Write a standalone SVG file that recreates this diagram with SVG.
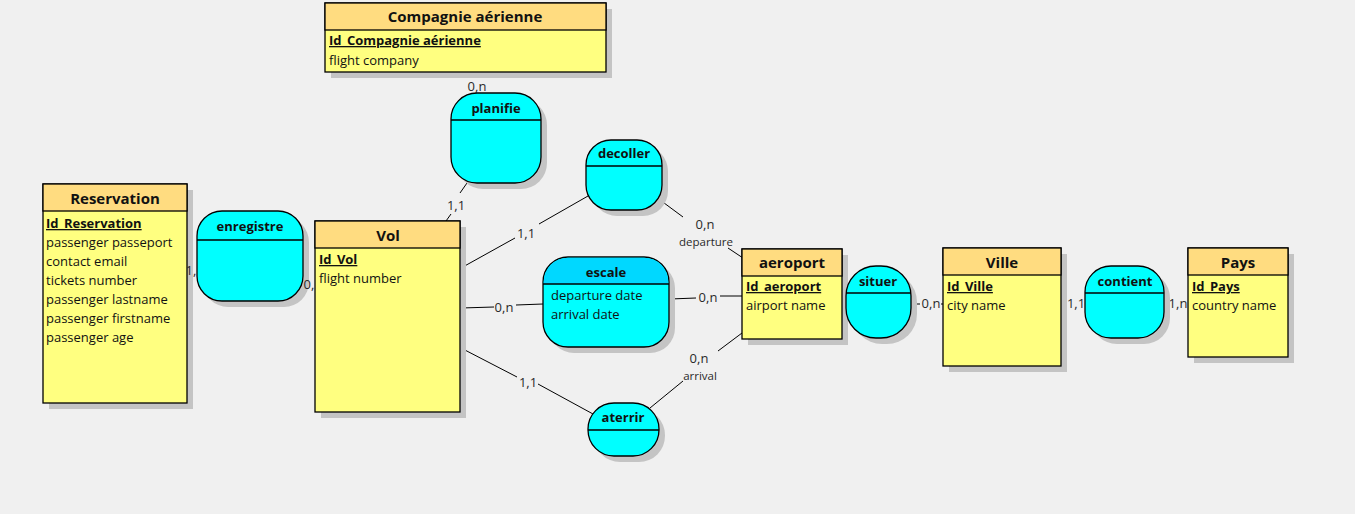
<svg xmlns="http://www.w3.org/2000/svg" width="1355" height="514" viewBox="0 0 1355 514">
<style>
text{font-family:"Open Sans","Noto Sans","Liberation Sans",sans-serif;fill:#111}
.sh{fill:#c4c4c4}
.hd{fill:#ffdc80;stroke:#000;stroke-width:1.3}
.bd{fill:#ffff80;stroke:#000;stroke-width:1.3}
.as{fill:#00ffff;stroke:#000;stroke-width:1.3}
.ash{fill:#00d8ff}
.sep{stroke:#000;stroke-width:1.3}
.t{font-weight:bold;font-size:15px;text-anchor:middle}
.at{font-weight:bold;font-size:13px;text-anchor:middle}
.id{font-weight:bold;font-size:13px;text-decoration:underline}
.a{font-size:13px}
.lb{font-size:13px;text-anchor:middle;fill:#2a2a2a}
.rl{font-size:11.5px;text-anchor:middle;fill:#2a2a2a}
.cn{stroke:#000;stroke-width:1;fill:none}
</style>
<rect width="1355" height="514" fill="#f0f0f0"/>
<g id="connectors">
<path class="cn" d="M472,72 L472,77"/>
<path class="cn" d="M467,183 L460,193 M451,214 L446,221"/>
<path class="cn" d="M461,268 L515,238 M539,224 L588,196"/>
<path class="cn" d="M656,197 L683,217 M728,248 L743,258"/>
<path class="cn" d="M461,308 L494,307 M516,305 L543,304"/>
<path class="cn" d="M670,299 L696,298 M720,296 L742,296"/>
<path class="cn" d="M461,348 L517,377 M538,384 L593,414"/>
<path class="cn" d="M650,408 L683,381 M718,351 L742,333"/>
<path class="cn" d="M842,299 L846,299"/>
<path class="cn" d="M911,304 L920,304 M941,304 L943,304"/>
<path class="cn" d="M1061,302 L1066,302"/>
<path class="cn" d="M1164,302 L1168,302"/>
<text class="lb" x="477" y="91">0,n</text>
<text class="lb" x="456" y="210">1,1</text>
<text class="lb" x="526" y="238">1,1</text>
<text class="lb" x="705" y="229">0,n</text>
<text class="rl" x="706" y="246">departure</text>
<text class="lb" x="504" y="312">0,n</text>
<text class="lb" x="708" y="302">0,n</text>
<text class="lb" x="699" y="363">0,n</text>
<text class="rl" x="700" y="380">arrival</text>
<text class="lb" x="528" y="387">1,1</text>
<text class="lb" x="931" y="308">0,n</text>
<text class="lb" x="1076" y="308">1,1</text>
<text class="lb" x="1178" y="308">1,n</text>
</g>
<g id="compagnie">
<rect class="sh" x="331" y="9" width="281" height="69"/>
<rect class="bd" x="325" y="3" width="281" height="69"/>
<rect class="hd" x="325" y="3" width="281" height="27"/>
<text class="t" x="465" y="22">Compagnie aérienne</text>
<text class="id" x="329" y="45">Id_Compagnie aérienne</text>
<text class="a" x="329" y="65">flight company</text>
</g>
<g id="reservation">
<rect class="sh" x="49" y="190" width="144" height="219"/>
<rect class="bd" x="43" y="184" width="144" height="219"/>
<rect class="hd" x="43" y="184" width="144" height="27"/>
<text class="t" x="115" y="204">Reservation</text>
<text class="id" x="46" y="228">Id_Reservation</text>
<text class="a" x="46" y="247">passenger passeport</text>
<text class="a" x="46" y="266">contact email</text>
<text class="a" x="46" y="285">tickets number</text>
<text class="a" x="46" y="304">passenger lastname</text>
<text class="a" x="46" y="323">passenger firstname</text>
<text class="a" x="46" y="342">passenger age</text>
</g>
<g id="enregistre">
<rect class="sh" x="203" y="217" width="106" height="90" rx="25"/>
<rect class="as" x="197" y="211" width="106" height="90" rx="25"/>
<line class="sep" x1="197" y1="240" x2="303" y2="240"/>
<text class="at" x="250" y="231">enregistre</text>
</g>
<text class="lb" x="191" y="275">1,</text>
<text class="lb" x="309" y="289">0,</text>
<g id="vol">
<rect class="sh" x="321" y="227" width="145" height="191"/>
<rect class="bd" x="315" y="221" width="145" height="191"/>
<rect class="hd" x="315" y="221" width="145" height="27"/>
<text class="t" x="388" y="241">Vol</text>
<text class="id" x="319" y="264">Id_Vol</text>
<text class="a" x="319" y="283">flight number</text>
</g>
<g id="planifie">
<rect class="sh" x="457" y="99" width="90" height="90" rx="26"/>
<rect class="as" x="451" y="93" width="90" height="90" rx="26"/>
<line class="sep" x1="451" y1="120" x2="541" y2="120"/>
<text class="at" x="496" y="113">planifie</text>
</g>
<g id="decoller">
<rect class="sh" x="592" y="146" width="76" height="70" rx="25"/>
<rect class="as" x="586" y="140" width="76" height="70" rx="25"/>
<line class="sep" x1="586" y1="166" x2="662" y2="166"/>
<text class="at" x="624" y="158">decoller</text>
</g>
<g id="escale">
<rect class="sh" x="549" y="263" width="126" height="90" rx="25"/>
<rect class="as" x="543" y="257" width="126" height="90" rx="25"/>
<path class="ash" d="M543.7,284 L543.7,282 A24.3,24.3 0 0 1 568,257.7 L644,257.7 A24.3,24.3 0 0 1 668.3,282 L668.3,284 Z"/>
<line class="sep" x1="543" y1="284" x2="669" y2="284"/>
<text class="at" x="606" y="277">escale</text>
<text class="a" x="551" y="300">departure date</text>
<text class="a" x="551" y="319">arrival date</text>
</g>
<g id="aterrir">
<rect class="sh" x="594" y="409" width="71" height="53" rx="26"/>
<rect class="as" x="588" y="403" width="71" height="53" rx="26"/>
<line class="sep" x1="588" y1="430" x2="659" y2="430"/>
<text class="at" x="623" y="422">aterrir</text>
</g>
<g id="aeroport">
<rect class="sh" x="748" y="255" width="100" height="90"/>
<rect class="bd" x="742" y="249" width="100" height="90"/>
<rect class="hd" x="742" y="249" width="100" height="27"/>
<text class="t" x="792" y="268">aeroport</text>
<text class="id" x="746" y="291">Id_aeroport</text>
<text class="a" x="746" y="310">airport name</text>
</g>
<g id="situer">
<rect class="sh" x="852" y="272" width="65" height="72" rx="30"/>
<rect class="as" x="846" y="266" width="65" height="72" rx="30"/>
<line class="sep" x1="846" y1="293" x2="911" y2="293"/>
<text class="at" x="878" y="286">situer</text>
</g>
<g id="ville">
<rect class="sh" x="949" y="254" width="118" height="118"/>
<rect class="bd" x="943" y="248" width="118" height="118"/>
<rect class="hd" x="943" y="248" width="118" height="27"/>
<text class="t" x="1002" y="268">Ville</text>
<text class="id" x="947" y="291">Id_Ville</text>
<text class="a" x="947" y="310">city name</text>
</g>
<g id="contient">
<rect class="sh" x="1091" y="272" width="79" height="72" rx="26"/>
<rect class="as" x="1085" y="266" width="79" height="72" rx="26"/>
<line class="sep" x1="1085" y1="293" x2="1164" y2="293"/>
<text class="at" x="1125" y="286">contient</text>
</g>
<g id="pays">
<rect class="sh" x="1194" y="254" width="100" height="109"/>
<rect class="bd" x="1188" y="248" width="100" height="109"/>
<rect class="hd" x="1188" y="248" width="100" height="27"/>
<text class="t" x="1238" y="268">Pays</text>
<text class="id" x="1192" y="291">Id_Pays</text>
<text class="a" x="1192" y="310">country name</text>
</g>
</svg>
